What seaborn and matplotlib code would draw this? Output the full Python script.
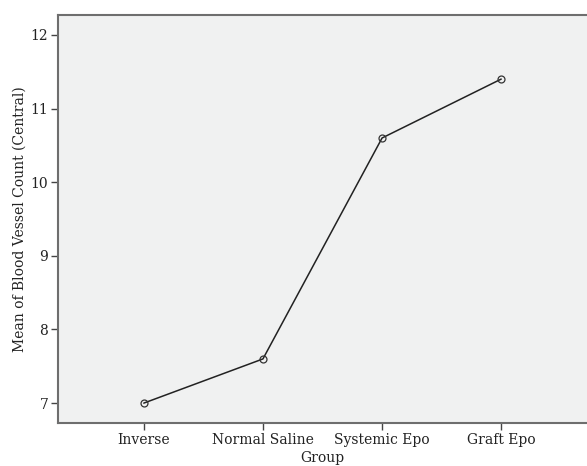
import matplotlib
matplotlib.use("Agg")
import matplotlib.pyplot as plt
import seaborn as sns
import pandas as pd

groups = ["Inverse", "Normal Saline", "Systemic Epo", "Graft Epo"]
means = [7.0, 7.6, 10.6, 11.4]
yticks = [7, 8, 9, 10, 11, 12]

sns.set_style("ticks")
plt.rcParams['font.family'] = ['DejaVu Serif', 'Liberation Serif']

df = pd.DataFrame({"Group": groups, "Mean": means})

fig = plt.figure(figsize=(5.87, 4.66), dpi=100)
ax = fig.add_axes([58/587, 43/466, 1 - 58/587, (423-15)/466])
ax.set_facecolor("#f0f1f1")

sns.lineplot(data=df, x="Group", y="Mean", sort=False, ax=ax, color="#222222",
             linewidth=1.1, marker="o", markersize=5, markerfacecolor="none",
             markeredgecolor="#333333", markeredgewidth=0.9)

ax.set_xlim(-0.72, 3.72)
ax.set_ylim(6.73, 12.27)
ax.set_yticks(yticks)
ax.set_yticklabels([str(v) for v in yticks])
ax.set_xticks(range(len(groups)))
ax.set_xticklabels(groups)

for side in ["right"]:
    ax.spines[side].set_visible(False)
for side in ["left", "top", "bottom"]:
    ax.spines[side].set_color("#6e6e6e")
    ax.spines[side].set_linewidth(1.5)

ax.tick_params(axis="both", direction="out", length=5, width=1, color="#444444",
               labelsize=10, labelcolor="#222222", pad=2)
ax.set_xlabel("Group", fontsize=10, color="#222222", labelpad=3)
ax.set_ylabel("Mean of Blood Vessel Count (Central)", fontsize=10, color="#222222", labelpad=3)

fig.savefig("out.png", dpi=100)
